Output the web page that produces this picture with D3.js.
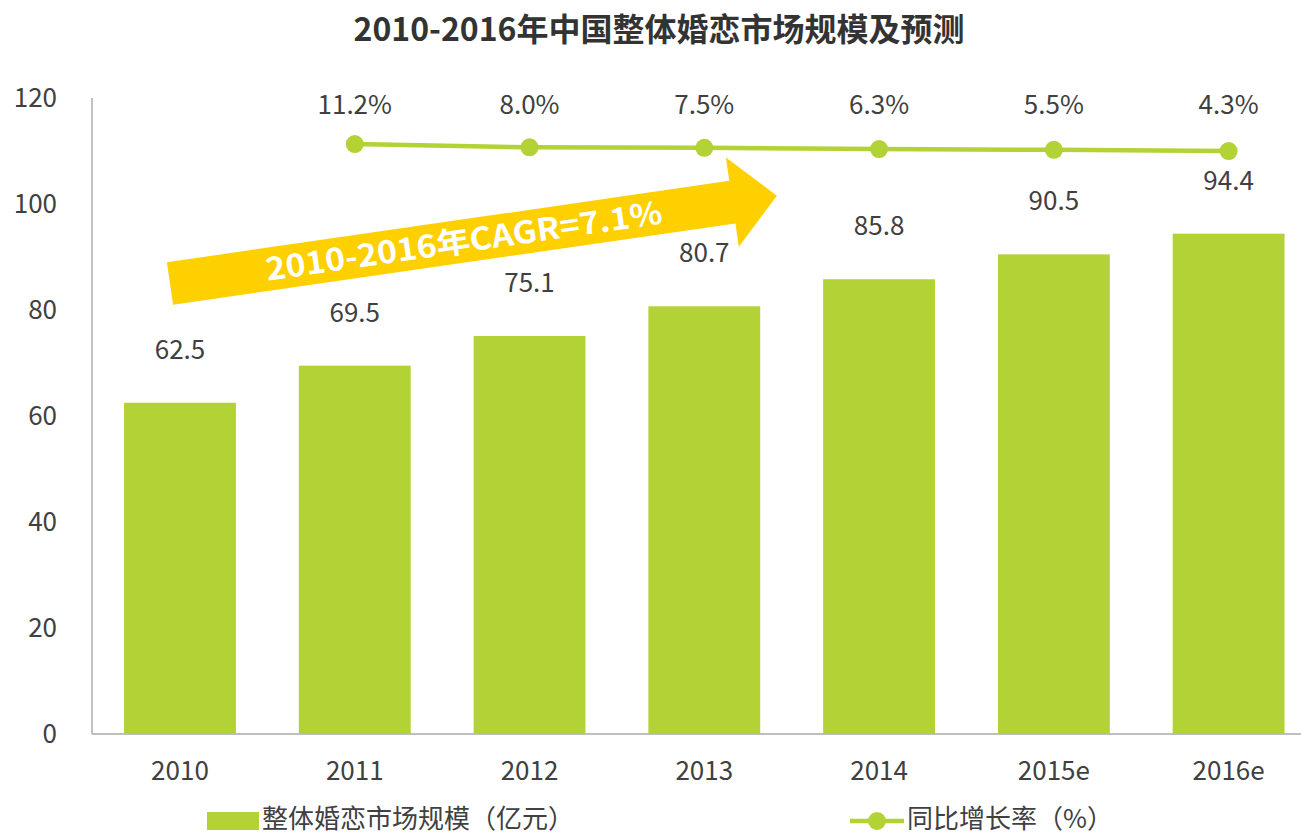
<!DOCTYPE html>
<html>
<head>
<meta charset="utf-8">
<script src="https://cdn.jsdelivr.net/npm/d3@7"></script>
<style>
  body { margin: 0; background: #fff; }
  text { font-family: "Noto Sans CJK SC", "Open Sans", sans-serif; fill: #404040; }
</style>
</head>
<body>
<div id="chart"></div>
<script>
const years = ["2010", "2011", "2012", "2013", "2014", "2015e", "2016e"]
const marketSize = [62.5, 69.5, 75.1, 80.7, 85.8, 90.5, 94.4]
const growthYears = ["2011", "2012", "2013", "2014", "2015e", "2016e"]
const growthRate = [11.2, 8.0, 7.5, 6.3, 5.5, 4.3]
const yTicks = [0, 20, 40, 60, 80, 100, 120]

const barColor = "#b2d235"
, lineColor = "#b2d235"
, arrowColor = "#ffd000"
, width = 1301
, height = 835
, numSize = "26px";

const svg = d3.select("#chart").append("svg")
  .attr("width", width)
  .attr("height", height);

const x = d3.scaleBand()
  .domain(years)
  .range([92.6, 1316])
  .paddingInner(0.36)
  .paddingOuter(0.18);

const y = d3.scaleLinear().domain([0, 120]).range([734, 98]);

// growth rate sits on a hidden secondary axis, squeezed near the top
const y2 = d3.scaleLinear().domain([0, 12]).range([155.4, 143.3]);

const cx = d => x(d) + x.bandwidth() / 2;

// title
svg.append("text")
  .attr("x", 659)
  .attr("y", 41)
  .attr("text-anchor", "middle")
  .style("font-size", "32px")
  .style("font-weight", "bold")
  .style("fill", "#333")
  .text("2010-2016年中国整体婚恋市场规模及预测");

// axes
svg.append("line")
  .attr("x1", 92).attr("x2", 92)
  .attr("y1", 98).attr("y2", y(0))
  .style("stroke", "#999").style("stroke-width", 1.2);

svg.append("line")
  .attr("x1", 92).attr("x2", width)
  .attr("y1", y(0)).attr("y2", y(0))
  .style("stroke", "#aaa").style("stroke-width", 1.5);

svg.selectAll(".ytick")
  .data(yTicks)
  .enter().append("text")
  .attr("class", "ytick")
  .attr("x", 57)
  .attr("y", d => y(d))
  .attr("dy", "0.35em")
  .attr("text-anchor", "end")
  .style("font-size", numSize)
  .text(d => d);

svg.selectAll(".xtick")
  .data(years)
  .enter().append("text")
  .attr("class", "xtick")
  .attr("x", d => cx(d))
  .attr("y", 771)
  .attr("dy", "0.35em")
  .attr("text-anchor", "middle")
  .style("font-size", numSize)
  .text(d => d);

// bars
svg.selectAll(".bar")
  .data(years)
  .enter().append("rect")
  .attr("class", "bar")
  .attr("x", d => x(d))
  .attr("y", (d, i) => y(marketSize[i]))
  .attr("width", x.bandwidth())
  .attr("height", (d, i) => y(0) - y(marketSize[i]))
  .style("fill", barColor);

svg.selectAll(".bar-label")
  .data(years)
  .enter().append("text")
  .attr("class", "bar-label")
  .attr("x", d => cx(d))
  .attr("y", (d, i) => y(marketSize[i]) - 53)
  .attr("dy", "0.35em")
  .attr("text-anchor", "middle")
  .style("font-size", numSize)
  .text((d, i) => marketSize[i].toFixed(1));

// CAGR arrow (annotation), tail anchored near 2010, tip near 2013/2014
const tail = [cx("2010") - 10, y(85)]
, tip = [776.9, 195.7]
, arrowLen = Math.hypot(tip[0] - tail[0], tip[1] - tail[1])
, arrowAngle = Math.atan2(tip[1] - tail[1], tip[0] - tail[0]) * 180 / Math.PI
, shaftHalf = 21.5
, headHalf = 45
, headLen = 45;

const arrow = svg.append("g")
  .attr("transform", `translate(${tail[0]},${tail[1]}) rotate(${arrowAngle})`);

arrow.append("path")
  .attr("d", d3.line()([
    [0, -shaftHalf], [arrowLen - headLen, -shaftHalf], [arrowLen - headLen, -headHalf],
    [arrowLen, 0], [arrowLen - headLen, headHalf], [arrowLen - headLen, shaftHalf], [0, shaftHalf]
  ]) + "Z")
  .style("fill", arrowColor);

arrow.append("text")
  .attr("x", 297)
  .attr("y", 0)
  .attr("dy", "0.36em")
  .attr("text-anchor", "middle")
  .attr("textLength", 400)
  .attr("lengthAdjust", "spacingAndGlyphs")
  .style("font-size", "31px")
  .style("font-weight", "bold")
  .style("fill", "#fff")
  .text("2010-2016年CAGR=7.1%");

// growth line
const line = d3.line()
  .x(d => cx(d[0]))
  .y(d => y2(d[1]));

const growthData = growthYears.map((d, i) => [d, growthRate[i]]);

svg.append("path")
  .datum(growthData)
  .attr("d", line)
  .style("fill", "none")
  .style("stroke", lineColor)
  .style("stroke-width", 4.5);

svg.selectAll(".dot")
  .data(growthData)
  .enter().append("circle")
  .attr("class", "dot")
  .attr("cx", d => cx(d[0]))
  .attr("cy", d => y2(d[1]))
  .attr("r", 9)
  .style("fill", lineColor);

svg.selectAll(".rate-label")
  .data(growthData)
  .enter().append("text")
  .attr("class", "rate-label")
  .attr("x", d => cx(d[0]))
  .attr("y", 105)
  .attr("dy", "0.35em")
  .attr("text-anchor", "middle")
  .style("font-size", numSize)
  .text(d => d[1].toFixed(1) + "%");

// legend
const legend = svg.append("g");

legend.append("rect")
  .attr("x", 207).attr("y", 812)
  .attr("width", 52).attr("height", 18)
  .style("fill", barColor);

legend.append("text")
  .attr("x", 262).attr("y", 819)
  .attr("dy", "0.35em")
  .style("font-size", "26px")
  .text("整体婚恋市场规模（亿元）");

legend.append("line")
  .attr("x1", 850).attr("x2", 904)
  .attr("y1", 821).attr("y2", 821)
  .style("stroke", lineColor).style("stroke-width", 4.5);

legend.append("circle")
  .attr("cx", 877).attr("cy", 821).attr("r", 9)
  .style("fill", lineColor);

legend.append("text")
  .attr("x", 907).attr("y", 819)
  .attr("dy", "0.35em")
  .style("font-size", "26px")
  .text("同比增长率（%）");
</script>
</body>
</html>
